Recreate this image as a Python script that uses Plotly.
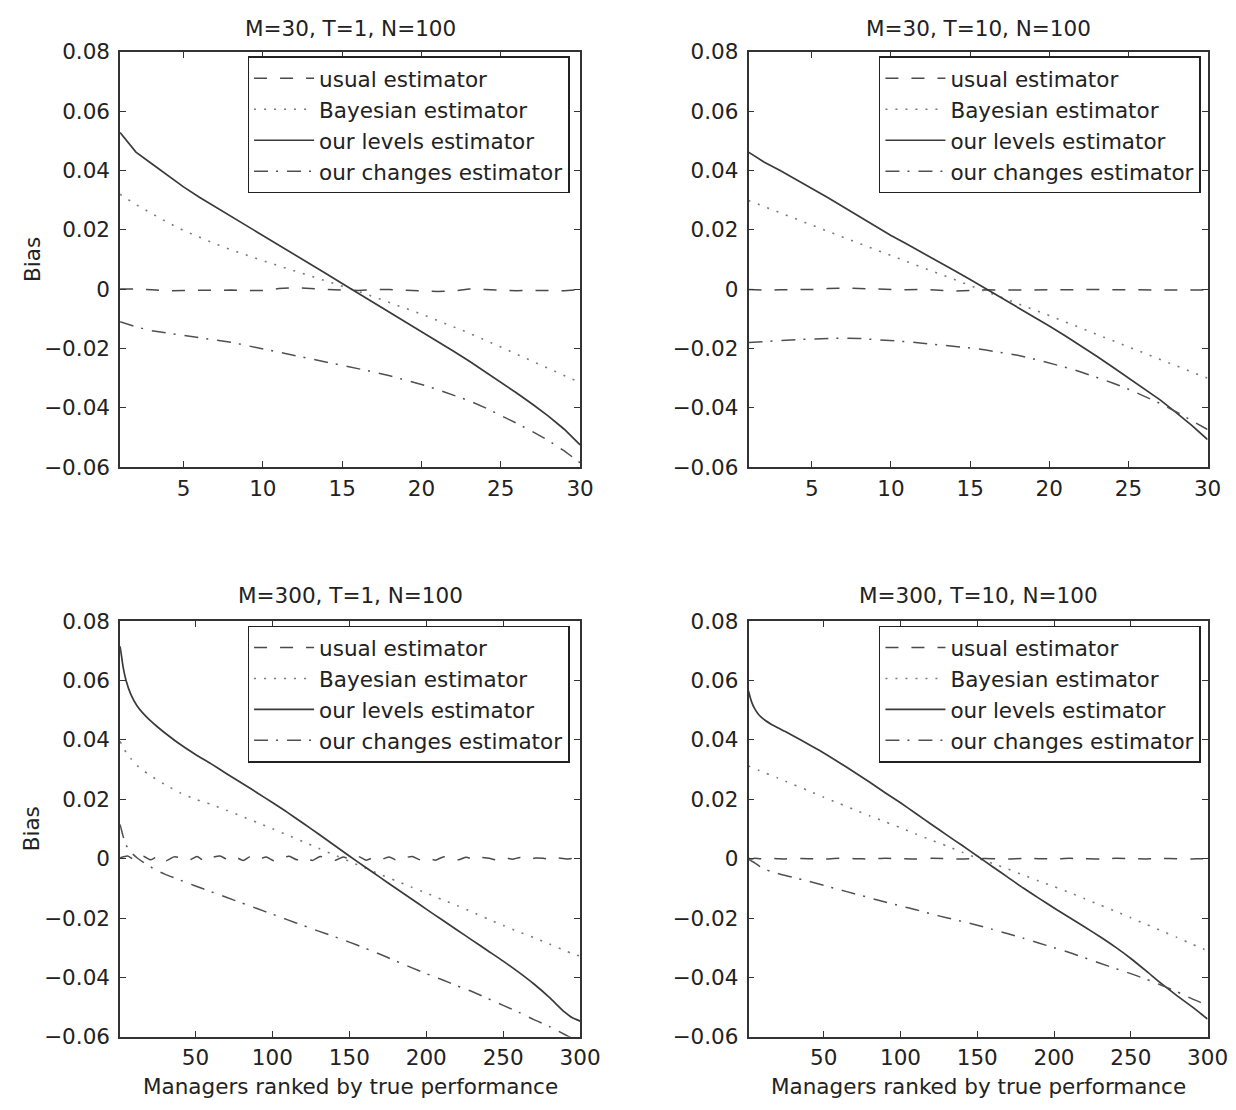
import plotly.graph_objects as go

# ---------------- data ----------------
ranks_30 = [1, 2, 3, 4, 5, 6, 7, 8, 9, 10, 11, 12, 13, 14, 15,
            16, 17, 18, 19, 20, 21, 22, 23, 24, 25, 26, 27, 28, 29, 30]

# M=30, T=1
usual_30_1 = [0.0001, 0.0001, -0.0002, -0.0006, -0.0004, -0.0003, -0.0003, -0.0003, -0.0005, -0.0004,
              0.0002, 0.0005, 0.0002, -0.0001, -0.0003, -0.0004, -0.0001, -0.0001, -0.0003, -0.0005,
              -0.0008, -0.0006, 0.0001, -0.0001, -0.0004, -0.0005, -0.0004, -0.0005, -0.0005, -0.0002]
bayes_30_1 = [0.0320, 0.0285, 0.0255, 0.0225, 0.0198, 0.0175, 0.0153, 0.0133, 0.0114, 0.0096,
              0.0079, 0.0062, 0.0045, 0.0028, 0.0011, -0.0007, -0.0026, -0.0045, -0.0064, -0.0084,
              -0.0105, -0.0126, -0.0148, -0.0171, -0.0195, -0.0219, -0.0243, -0.0267, -0.0291, -0.0315]
levels_30_1 = [0.0528, 0.0462, 0.0423, 0.0383, 0.0345, 0.0310, 0.0278, 0.0246, 0.0213, 0.0180,
               0.0148, 0.0118, 0.0085, 0.0052, 0.0019, -0.0013, -0.0046, -0.0078, -0.0110, -0.0142,
               -0.0175, -0.0208, -0.0242, -0.0277, -0.0313, -0.0350, -0.0388, -0.0428, -0.0472, -0.0525]
changes_30_1 = [-0.0110, -0.0127, -0.0140, -0.0148, -0.0155, -0.0162, -0.0170, -0.0179, -0.0190, -0.0201,
                -0.0212, -0.0224, -0.0235, -0.0245, -0.0256, -0.0267, -0.0279, -0.0292, -0.0306, -0.0321,
                -0.0338, -0.0356, -0.0376, -0.0399, -0.0425, -0.0452, -0.0480, -0.0510, -0.0545, -0.0585]

# M=30, T=10
usual_30_10 = [-0.0001, -0.0003, -0.0002, -0.0002, -0.0001, 0.0002, 0.0004, 0.0002, 0.0000, -0.0002,
               -0.0002, -0.0001, -0.0004, -0.0006, -0.0004, -0.0002, -0.0003, -0.0002, -0.0001, -0.0002,
               -0.0002, -0.0001, -0.0001, -0.0002, -0.0002, -0.0003, -0.0002, -0.0002, -0.0003, -0.0003]
bayes_30_10 = [0.0299, 0.0278, 0.0257, 0.0236, 0.0215, 0.0195, 0.0174, 0.0154, 0.0134, 0.0113,
               0.0093, 0.0073, 0.0053, 0.0033, 0.0013, -0.0007, -0.0027, -0.0047, -0.0068, -0.0089,
               -0.0110, -0.0131, -0.0152, -0.0174, -0.0196, -0.0217, -0.0238, -0.0259, -0.0280, -0.0300]
levels_30_10 = [0.0462, 0.0428, 0.0400, 0.0370, 0.0340, 0.0309, 0.0277, 0.0245, 0.0213, 0.0181,
                0.0152, 0.0123, 0.0093, 0.0063, 0.0033, 0.0002, -0.0029, -0.0060, -0.0092, -0.0124,
                -0.0157, -0.0191, -0.0226, -0.0262, -0.0298, -0.0335, -0.0373, -0.0415, -0.0459, -0.0507]
changes_30_10 = [-0.0180, -0.0176, -0.0173, -0.0170, -0.0168, -0.0166, -0.0165, -0.0166, -0.0169, -0.0173,
                 -0.0177, -0.0182, -0.0187, -0.0192, -0.0198, -0.0205, -0.0213, -0.0223, -0.0235, -0.0248,
                 -0.0263, -0.0279, -0.0297, -0.0316, -0.0337, -0.0360, -0.0385, -0.0413, -0.0442, -0.0473]

# M=300 (sampled ranks)
ranks_300 = [1, 2, 3, 5, 8, 12, 16, 20, 25, 30, 40, 50, 60, 70, 80, 90, 100, 110, 120, 130,
             140, 150, 160, 170, 180, 190, 200, 210, 220, 230, 240, 250, 260, 270, 280, 290, 295, 300]

# M=300, T=1
ranks_300_usual = [1, 6, 11, 16, 21, 26, 31, 36, 41, 46, 51, 56, 61, 66, 71, 76, 81, 86, 91, 96,
                   101, 106, 111, 116, 121, 126, 131, 136, 141, 146, 151, 156, 161, 166, 171, 176, 181, 186, 191, 196,
                   201, 206, 211, 216, 221, 226, 231, 236, 241, 246, 251, 256, 261, 266, 271, 276, 281, 286, 291, 296, 300]
usual_300_1 = [0.0003, 0.0009, -0.0006, 0.0008, -0.0004, 0.0010, -0.0007, 0.0006, 0.0002, -0.0005,
               0.0007, -0.0008, 0.0004, 0.0009, -0.0003, 0.0005, -0.0006, 0.0008, -0.0002, 0.0006,
               -0.0007, 0.0003, 0.0008, -0.0004, 0.0005, -0.0006, 0.0007, 0.0001, -0.0005, 0.0006,
               -0.0003, 0.0007, -0.0005, 0.0004, -0.0002, 0.0006, -0.0006, 0.0003, 0.0007, -0.0004,
               0.0002, -0.0005, 0.0006, 0.0000, -0.0004, 0.0005, -0.0003, 0.0004, 0.0001, -0.0004,
               0.0003, -0.0002, 0.0004, -0.0003, 0.0002, 0.0001, -0.0003, 0.0002, -0.0001, 0.0001, -0.0002]
bayes_300_1 = [0.0395, 0.0385, 0.0373, 0.0358, 0.0337, 0.0314, 0.0297, 0.0283, 0.0265, 0.0250,
               0.0222, 0.0200, 0.0183, 0.0163, 0.0143, 0.0122, 0.0101, 0.0079, 0.0057, 0.0035,
               0.0013, -0.0009, -0.0031, -0.0053, -0.0074, -0.0095, -0.0116, -0.0137, -0.0158, -0.0180,
               -0.0203, -0.0225, -0.0246, -0.0266, -0.0287, -0.0309, -0.0320, -0.0328]
levels_300_1 = [0.0715, 0.0680, 0.0645, 0.0598, 0.0553, 0.0515, 0.0489, 0.0468, 0.0445, 0.0424,
                0.0385, 0.0351, 0.0320, 0.0287, 0.0255, 0.0222, 0.0189, 0.0155, 0.0119, 0.0083,
                0.0046, 0.0009, -0.0027, -0.0063, -0.0099, -0.0134, -0.0170, -0.0205, -0.0240, -0.0275,
                -0.0310, -0.0345, -0.0382, -0.0422, -0.0467, -0.0517, -0.0536, -0.0547]
changes_300_1 = [0.0115, 0.0095, 0.0075, 0.0045, 0.0022, 0.0003, -0.0012, -0.0025, -0.0040, -0.0052,
                 -0.0072, -0.0092, -0.0111, -0.0130, -0.0149, -0.0168, -0.0187, -0.0206, -0.0225, -0.0244,
                 -0.0262, -0.0281, -0.0301, -0.0322, -0.0344, -0.0366, -0.0387, -0.0407, -0.0428, -0.0448,
                 -0.0471, -0.0494, -0.0517, -0.0542, -0.0565, -0.0592, -0.0605, -0.0618]

# M=300, T=10
usual_300_10 = [0.0001, 0.0000, -0.0001, 0.0001, 0.0000, -0.0001, 0.0001, 0.0000, -0.0001, 0.0001,
                0.0000, -0.0001, 0.0001, 0.0000, -0.0001, 0.0001, 0.0000, -0.0001, 0.0001, 0.0000,
                -0.0001, 0.0001, 0.0000, -0.0001, 0.0001, 0.0000, -0.0001, 0.0001, 0.0000, -0.0001,
                0.0001, 0.0000, -0.0001, 0.0001, 0.0000, -0.0001, 0.0000, 0.0000]
bayes_300_10 = [0.0312, 0.0310, 0.0307, 0.0303, 0.0297, 0.0289, 0.0280, 0.0272, 0.0261, 0.0250,
                0.0229, 0.0207, 0.0186, 0.0165, 0.0144, 0.0124, 0.0104, 0.0083, 0.0063, 0.0043,
                0.0022, 0.0002, -0.0016, -0.0035, -0.0055, -0.0075, -0.0094, -0.0114, -0.0135, -0.0156,
                -0.0177, -0.0199, -0.0221, -0.0243, -0.0265, -0.0288, -0.0299, -0.0310]
levels_300_10 = [0.0565, 0.0545, 0.0528, 0.0505, 0.0483, 0.0465, 0.0452, 0.0441, 0.0428, 0.0414,
                 0.0385, 0.0356, 0.0324, 0.0291, 0.0257, 0.0222, 0.0188, 0.0152, 0.0116, 0.0080,
                 0.0045, 0.0009, -0.0027, -0.0063, -0.0099, -0.0133, -0.0166, -0.0198, -0.0230, -0.0263,
                 -0.0298, -0.0336, -0.0378, -0.0421, -0.0461, -0.0499, -0.0519, -0.0540]
changes_300_10 = [-0.0002, -0.0005, -0.0008, -0.0014, -0.0025, -0.0036, -0.0044, -0.0050, -0.0057, -0.0063,
                  -0.0076, -0.0090, -0.0104, -0.0118, -0.0132, -0.0146, -0.0159, -0.0172, -0.0186, -0.0199,
                  -0.0211, -0.0224, -0.0238, -0.0253, -0.0268, -0.0284, -0.0300, -0.0316, -0.0334, -0.0352,
                  -0.0370, -0.0387, -0.0406, -0.0426, -0.0448, -0.0472, -0.0483, -0.0494]

series_names = ["usual estimator", "Bayesian estimator", "our levels estimator", "our changes estimator"]
panel_titles = ["M=30, T=1, N=100", "M=30, T=10, N=100", "M=300, T=1, N=100", "M=300, T=10, N=100"]
x_ticks_30 = [5, 10, 15, 20, 25, 30]
x_ticks_300 = [50, 100, 150, 200, 250, 300]
y_ticks = [0.08, 0.06, 0.04, 0.02, 0, -0.02, -0.04, -0.06]
y_ticktext = ["0.08", "0.06", "0.04", "0.02", "0", "\u22120.02", "\u22120.04", "\u22120.06"]
x_title = "Managers ranked by true performance"
y_title = "Bias"

# ---------------- styling ----------------
W, H = 1236, 1110
FONT = "DejaVu Sans"
FS = 21.5
TXT = "#222222"
styles = [
    dict(color="#4a4a4a", width=1.5, dash="13px,13px"),
    dict(color="#7a7a7a", width=1.6, dash="2px,8px"),
    dict(color="#3a3a3a", width=1.7, dash="solid"),
    dict(color="#505050", width=1.5, dash="14px,8px,2px,9px"),
]

XL = [114.0 / W, 582.0 / W]
XR = [753.3 / W, 1220.3 / W]
YT = [1 - 457.5 / H, 1 - 32.6 / H]
YB = [1 - 1040.3 / H, 1 - 614.9 / H]

panels = [
    dict(x=[ranks_30] * 4, y=[usual_30_1, bayes_30_1, levels_30_1, changes_30_1],
         ax="", xd=XL, yd=YT, ticks=x_ticks_30, rng=[1, 30], legend="legend", shape="linear"),
    dict(x=[ranks_30] * 4, y=[usual_30_10, bayes_30_10, levels_30_10, changes_30_10],
         ax="2", xd=XR, yd=YT, ticks=x_ticks_30, rng=[1, 30], legend="legend2", shape="linear"),
    dict(x=[ranks_300_usual, ranks_300, ranks_300, ranks_300],
         y=[usual_300_1, bayes_300_1, levels_300_1, changes_300_1],
         ax="3", xd=XL, yd=YB, ticks=x_ticks_300, rng=[1, 300], legend="legend3", shape="spline"),
    dict(x=[ranks_300] * 4, y=[usual_300_10, bayes_300_10, levels_300_10, changes_300_10],
         ax="4", xd=XR, yd=YB, ticks=x_ticks_300, rng=[1, 300], legend="legend4", shape="spline"),
]

fig = go.Figure()
axis_common = dict(showline=True, linecolor="#333333", linewidth=1.5, mirror="ticks",
                   ticks="inside", ticklen=6, tickwidth=1.2, tickcolor="#333333",
                   showgrid=False, zeroline=False,
                   tickfont=dict(family=FONT, size=FS, color=TXT))

layout = dict(width=W, height=H, margin=dict(l=0, r=0, t=0, b=0),
              paper_bgcolor="white", plot_bgcolor="white",
              font=dict(family=FONT, size=FS, color=TXT))

annotations = []
for i, p in enumerate(panels):
    xa, ya = "x" + p["ax"], "y" + p["ax"]
    for k in range(4):
        fig.add_trace(go.Scatter(
            x=p["x"][k], y=p["y"][k], mode="lines", name=series_names[k],
            line=dict(color=styles[k]["color"], width=styles[k]["width"],
                      dash=styles[k]["dash"], shape=p["shape"],
                      **({"smoothing": 0.6} if p["shape"] == "spline" else {})),
            xaxis=xa, yaxis=ya, legend=p["legend"], showlegend=True))
    layout["xaxis" + p["ax"]] = dict(axis_common, domain=p["xd"], anchor=ya, range=p["rng"],
                                     tickvals=p["ticks"], ticklabelstandoff=1)
    layout["yaxis" + p["ax"]] = dict(axis_common, domain=p["yd"], anchor=xa, range=[-0.06, 0.08],
                                     tickvals=y_ticks, ticktext=y_ticktext, ticklabelstandoff=4)
    lx = 243.7 / W if p["xd"] is XL else 886.0 / W
    ly = 1 - 37.2 / H if p["yd"] is YT else 1 - 619.5 / H
    layout[p["legend"]] = dict(x=lx, y=ly, xanchor="left", yanchor="top",
                               bgcolor="white", bordercolor="#222222", borderwidth=1.5,
                               font=dict(family=FONT, size=FS, color=TXT),
                               itemwidth=60, tracegroupgap=0, traceorder="normal")
    cx = (p["xd"][0] + p["xd"][1]) / 2
    ty = (1 - 9.0 / H) if p["yd"] is YT else (1 - 588.4 / H)
    annotations.append(dict(text=panel_titles[i], x=cx, y=ty, xref="paper", yref="paper",
                            xanchor="center", yanchor="middle", showarrow=False,
                            font=dict(family=FONT, size=FS, color=TXT)))
    if p["xd"] is XL:
        by = (p["yd"][0] + p["yd"][1]) / 2
        annotations.append(dict(text=y_title, x=24.8 / W, y=by, xref="paper", yref="paper",
                                xanchor="center", yanchor="middle", textangle=-90, showarrow=False,
                                font=dict(family=FONT, size=FS, color=TXT)))
    if p["yd"] is YB:
        annotations.append(dict(text=x_title, x=cx, y=1 - 1091.4 / H, xref="paper", yref="paper",
                                xanchor="center", yanchor="middle", showarrow=False,
                                font=dict(family=FONT, size=FS, color=TXT)))

layout["annotations"] = annotations
fig.update_layout(**layout)
fig.write_html("out.html")
